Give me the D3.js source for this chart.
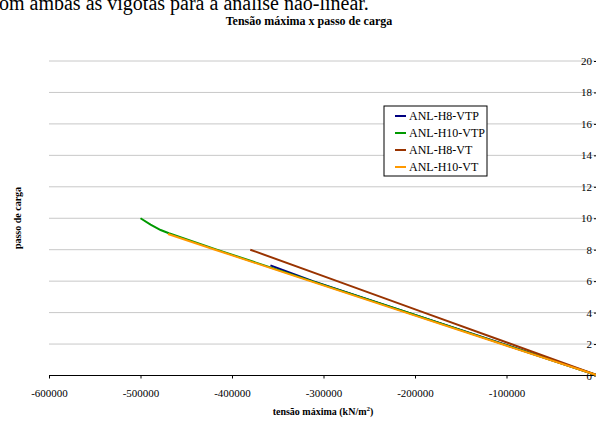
<!DOCTYPE html>
<html>
<head>
<meta charset="utf-8">
<script src="https://cdn.jsdelivr.net/npm/d3@7"></script>
<style>
  body { margin: 0; background: #fff; }
  svg { display: block; }
  svg text { font-family: "Liberation Serif", "Times New Roman", serif; fill: #000; }
</style>
</head>
<body>
<script>
// series: [tensão máxima, passo de carga]
var serieH8VTP = [[-358000, 7], [-311500, 6], [-207500, 4], [-103500, 2], [0, 0]];
var serieH10VTP = [[-500000, 10], [-489000, 9.6], [-478000, 9.25], [-469000, 9.05], [-417500, 8.02], [-313500, 6.02], [-209000, 4.02], [-104500, 2.01], [0, 0]];
var serieH8VT = [[-380000, 8], [-285000, 6], [-190000, 4], [-95000, 2], [0, 0]];
var serieH10VT = [[-470000, 9], [-418500, 8], [-314500, 6], [-210000, 4], [-105500, 2], [0, 0]];
var seriesNames = ['ANL-H8-VTP', 'ANL-H10-VTP', 'ANL-H8-VT', 'ANL-H10-VT'];
var seriesColors = ['#000080', '#009900', '#993300', '#ff9900'];
var xTicks = [-600000, -500000, -400000, -300000, -200000, -100000, 0];
var yTicks = [0, 2, 4, 6, 8, 10, 12, 14, 16, 18, 20];

var svg = d3.select('body').append('svg').attr('width', 596).attr('height', 421);

// trecho do texto do documento, cortado no topo
svg.append('text').attr('x', -1).attr('y', 10).attr('font-size', 20).text('om ambas as vigotas para a análise não-linear.');

svg.append('text').attr('x', 309).attr('y', 25).attr('text-anchor', 'middle')
   .attr('font-size', 12).attr('font-weight', 'bold').text('Tensão máxima x passo de carga');

var xScale = d3.scaleLinear().domain([-600000, 0]).range([49, 598]);
var yScale = d3.scaleLinear().domain([0, 20]).range([375.5, 61]);

// linhas de grade
svg.append('g').selectAll('line').data(yTicks.filter(d => d > 0)).enter().append('line')
   .attr('x1', xScale(-600000)).attr('x2', xScale(0))
   .attr('y1', d => yScale(d)).attr('y2', d => yScale(d))
   .attr('stroke', '#c8c8c8').attr('stroke-width', 1);

var xAxis = d3.axisBottom(xScale).tickValues(xTicks.slice(0, 6)).tickSize(3).tickPadding(11).tickFormat(d => String(d));
var gx = svg.append('g').attr('transform', 'translate(0,' + yScale(0) + ')').call(xAxis);
gx.select('.domain').attr('d', 'M' + xScale(-600000) + ',0H' + xScale(0));
gx.attr('font-family', null).attr('font-size', 11);

var yAxis = d3.axisLeft(yScale).tickValues(yTicks).tickSize(4).tickPadding(2).tickFormat(d => String(d));
var gy = svg.append('g').attr('transform', 'translate(' + xScale(0) + ',0)').call(yAxis);
gy.select('.domain').remove();
gy.attr('font-family', null).attr('font-size', 11);

svg.append('text').attr('transform', 'translate(21,218) rotate(-90)').attr('text-anchor', 'middle')
   .attr('font-size', 10).attr('font-weight', 'bold').text('passo de carga');

var xl = svg.append('text').attr('x', 323).attr('y', 415).attr('text-anchor', 'middle')
   .attr('font-size', 10).attr('font-weight', 'bold').text('tensão máxima (kN/m');
xl.append('tspan').attr('font-size', 7).attr('dy', -4).text('2');
xl.append('tspan').attr('dy', 4).text(')');

var line = d3.line().x(d => xScale(d[0])).y(d => yScale(d[1]));
var allSeries = [serieH8VTP, serieH10VTP, serieH8VT, serieH10VT];
svg.append('g').selectAll('path').data(allSeries).enter().append('path')
   .attr('d', line).attr('fill', 'none')
   .attr('stroke', (d, i) => seriesColors[i]).attr('stroke-width', 2);

// legenda
var leg = svg.append('g').attr('transform', 'translate(384,106)');
leg.append('rect').attr('width', 103).attr('height', 70).attr('fill', '#fff').attr('stroke', '#000').attr('stroke-width', 1);
var items = leg.selectAll('g').data(seriesNames).enter().append('g')
   .attr('transform', (d, i) => 'translate(0,' + (10 + i * 17) + ')');
items.append('line').attr('x1', 11).attr('x2', 22).attr('stroke', (d, i) => seriesColors[i]).attr('stroke-width', 2);
items.append('text').attr('x', 25).attr('y', 4).attr('font-size', 12).text(d => d);
</script>
</body>
</html>
